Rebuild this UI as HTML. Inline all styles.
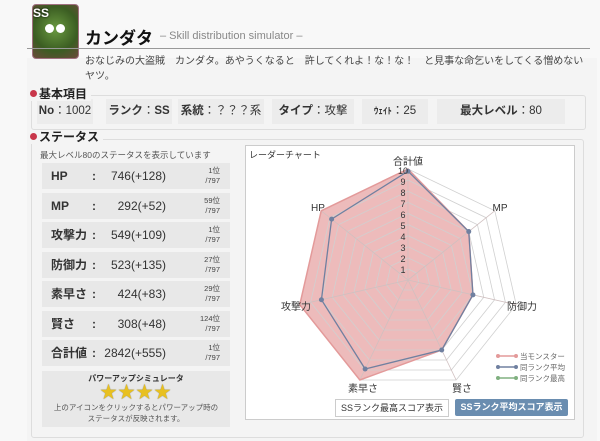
<!DOCTYPE html>
<html><head><meta charset="utf-8"><style>
body{margin:0;width:600px;height:441px;background:#fff;font-family:"Liberation Sans","Noto Sans CJK JP",sans-serif;position:relative;overflow:hidden;color:#333}
.a{position:absolute;white-space:nowrap}
.item{position:absolute;top:99px;height:25px;line-height:25px;background:#ececec;font-size:11.5px;text-align:center;color:#333;white-space:nowrap}
.item b{font-weight:bold}
.row{position:absolute;left:42px;width:188px;height:26px;background:#e8e8e8;white-space:nowrap}
.row .l{position:absolute;left:9px;top:6px;font-size:12px;line-height:14px;font-weight:bold}
.row .c{position:absolute;left:50px;top:6px;font-size:12px;line-height:14px;font-weight:bold}
.row .v{position:absolute;right:64px;top:6px;font-size:12px;line-height:14px}
.row .r{position:absolute;right:10px;top:3px;font-size:7.5px;line-height:10px;text-align:right;color:#444}
.h{position:absolute;font-size:12px;line-height:14px;font-weight:bold;color:#222;background:#f4f4f4;padding-right:4px;white-space:nowrap;z-index:2}
.h:before{content:"";display:inline-block;width:7px;height:7px;border-radius:50%;background:#c8364a;margin-right:2px;vertical-align:1px}
</style></head><body>
<div class="a" style="left:0;top:0;width:600px;height:441px;background:#f8f8f8"></div>
<div class="a" style="left:27px;top:58px;width:570px;height:383px;background:#f4f4f4"></div>
<div class="a" style="left:32px;top:4px;width:45px;height:53px;border-radius:4px;background:radial-gradient(circle at 50% 45%,#6a9a40,#3b5d22 60%,#6b4a3a);border:1px solid #a07080"></div>
<div class="a" style="left:33px;top:6px;font-size:12px;font-weight:bold;color:#fff;text-shadow:0 0 2px #000">SS</div>
<div class="a" style="left:45px;top:24px;width:9px;height:9px;border-radius:50%;background:#fff"></div>
<div class="a" style="left:56px;top:24px;width:9px;height:9px;border-radius:50%;background:#fff"></div>
<div class="a" style="left:85px;top:24px;font-size:17px;font-weight:bold;color:#111">カンダタ</div>
<div class="a" style="left:160px;top:30px;font-size:11px;color:#888">– Skill distribution simulator –</div>
<div class="a" style="left:27px;top:48px;width:563px;height:1px;background:#999"></div>
<div class="a" style="left:85px;top:54px;font-size:10px;line-height:15px;width:500px;color:#444;white-space:normal">おなじみの大盗賊　カンダタ。あやうくなると　許してくれよ！な！な！　と見事な命乞いをしてくる憎めないヤツ。</div>
<div class="a" style="left:31px;top:95px;width:553px;height:33px;border:1px solid #ddd;border-radius:3px"></div>
<div class="h" style="left:30px;top:87px">基本項目</div>
<div class="item" style="left:37px;width:56px"><b>No</b>：1002</div>
<div class="item" style="left:106px;width:66px"><b>ランク</b>：<b>SS</b></div>
<div class="item" style="left:178px;width:86px"><b>系統</b>：？？？系</div>
<div class="item" style="left:272px;width:82px"><b>タイプ</b>：攻撃</div>
<div class="item" style="left:362px;width:66px"><b style="font-size:9px">ｳｪｲﾄ</b>：25</div>
<div class="item" style="left:437px;width:128px"><b>最大レベル</b>：80</div>
<div class="a" style="left:31px;top:139px;width:551px;height:297px;border:1px solid #ddd;border-radius:3px"></div>
<div class="h" style="left:30px;top:130px">ステータス</div>
<div class="a" style="left:40px;top:149px;font-size:8.5px;color:#555">最大レベル80のステータスを表示しています</div>
<div class="row" style="top:163px"><span class="l">HP</span><span class="c">:</span><span class="v">746(+128)</span><span class="r">1位<br>/797</span></div>
<div class="row" style="top:193px"><span class="l">MP</span><span class="c">:</span><span class="v">292(+52)</span><span class="r">59位<br>/797</span></div>
<div class="row" style="top:222px"><span class="l">攻撃力</span><span class="c">:</span><span class="v">549(+109)</span><span class="r">1位<br>/797</span></div>
<div class="row" style="top:252px"><span class="l">防御力</span><span class="c">:</span><span class="v">523(+135)</span><span class="r">27位<br>/797</span></div>
<div class="row" style="top:281px"><span class="l">素早さ</span><span class="c">:</span><span class="v">424(+83)</span><span class="r">29位<br>/797</span></div>
<div class="row" style="top:311px"><span class="l">賢さ</span><span class="c">:</span><span class="v">308(+48)</span><span class="r">124位<br>/797</span></div>
<div class="row" style="top:340px"><span class="l">合計値</span><span class="c">:</span><span class="v">2842(+555)</span><span class="r">1位<br>/797</span></div>
<div class="a" style="left:42px;top:371px;width:188px;height:56px;background:#e8e8e8;text-align:center">
<div style="font-size:8px;font-weight:bold;margin-top:2px">パワーアップシミュレータ</div>
<div style="font-size:17px;color:#e8c020;line-height:18px;letter-spacing:1px;text-shadow:0 0 1px #665">★★★★</div>
<div style="font-size:7.5px;color:#555;line-height:11px">上のアイコンをクリックするとパワーアップ時の<br>ステータスが反映されます。</div>
</div>
<div class="a" style="left:245px;top:145px;width:328px;height:273px;border:1px solid #ccc;background:#fff"></div>
<div class="a" style="left:249px;top:148px;font-size:9px;color:#333">レーダーチャート</div>
<svg class="a" style="left:0;top:0" width="600" height="441" viewBox="0 0 600 441">
<g id="g"></g>
</svg>
<div class="a" style="left:335px;top:399px;width:112px;height:16px;border:1px solid #ccc;background:#fff;font-size:9px;line-height:16px;text-align:center;color:#333">SSランク最高スコア表示</div>
<div class="a" style="left:455px;top:399px;width:113px;height:17px;background:#6a8db0;border-radius:2px;font-size:9px;line-height:17px;text-align:center;color:#fff;font-weight:bold">SSランク平均スコア表示</div>
<script>
var cx=408,cy=280,R=111,s='';
function pt(k,v){var a=(-90+k*360/7)*Math.PI/180;return [cx+R*v/10*Math.cos(a),cy+R*v/10*Math.sin(a)];}
function poly(vals,att){return '<polygon points="'+vals.map(function(v,k){return pt(k,v).join(',')}).join(' ')+'" '+att+'/>';}
var mon=[10,7,6,7,10,10,10],avg=[9.8,7,6,7,8.9,8,8.8];
s+=poly(mon,'fill="#e9aaaa" fill-opacity="0.8" stroke="none"');
for(var i=1;i<=10;i++)s+=poly([i,i,i,i,i,i,i],'fill="none" stroke="#d0d0d0" stroke-width="0.8"');
for(var k=0;k<7;k++){var p=pt(k,10);s+='<line x1="'+cx+'" y1="'+cy+'" x2="'+p[0]+'" y2="'+p[1]+'" stroke="#d0c0c0" stroke-width="0.8"/>';}
s+=poly(mon,'fill="none" stroke="#e39a9a" stroke-width="1.5"');
s+=poly(avg,'fill="none" stroke="#7080a0" stroke-width="1.3"');
avg.forEach(function(v,k){var p=pt(k,v);s+='<circle cx="'+p[0]+'" cy="'+p[1]+'" r="2.5" fill="#7080a0"/>';});
for(var i=1;i<=10;i++)s+='<text x="'+(cx-5)+'" y="'+(cy-i*11+4)+'" font-size="9" text-anchor="middle" fill="#333">'+i+'</text>';
var L=[['合計値',408,165,'middle'],['MP',500,211,'middle'],['防御力',522,310,'middle'],['賢さ',462,392,'middle'],['素早さ',363,392,'middle'],['攻撃力',296,310,'middle'],['HP',318,211,'middle']];
L.forEach(function(l){s+='<text x="'+l[1]+'" y="'+l[2]+'" font-size="10" text-anchor="'+l[3]+'" fill="#333" font-family="Liberation Sans,Noto Sans CJK JP,sans-serif">'+l[0]+'</text>';});
var lg=[['#e39a9a','当モンスター'],['#7080a0','同ランク平均'],['#80b080','同ランク最高']];
lg.forEach(function(g,i){var y=356+i*11;s+='<line x1="497" y1="'+y+'" x2="517" y2="'+y+'" stroke="'+g[0]+'" stroke-width="1.5"/><circle cx="498" cy="'+y+'" r="2" fill="'+g[0]+'"/><circle cx="516" cy="'+y+'" r="2" fill="'+g[0]+'"/><text x="520" y="'+(y+3)+'" font-size="7.5" fill="#666" font-family="Liberation Sans,Noto Sans CJK JP,sans-serif">'+g[1]+'</text>';});
document.getElementById('g').innerHTML=s;
</script>
</body></html>
